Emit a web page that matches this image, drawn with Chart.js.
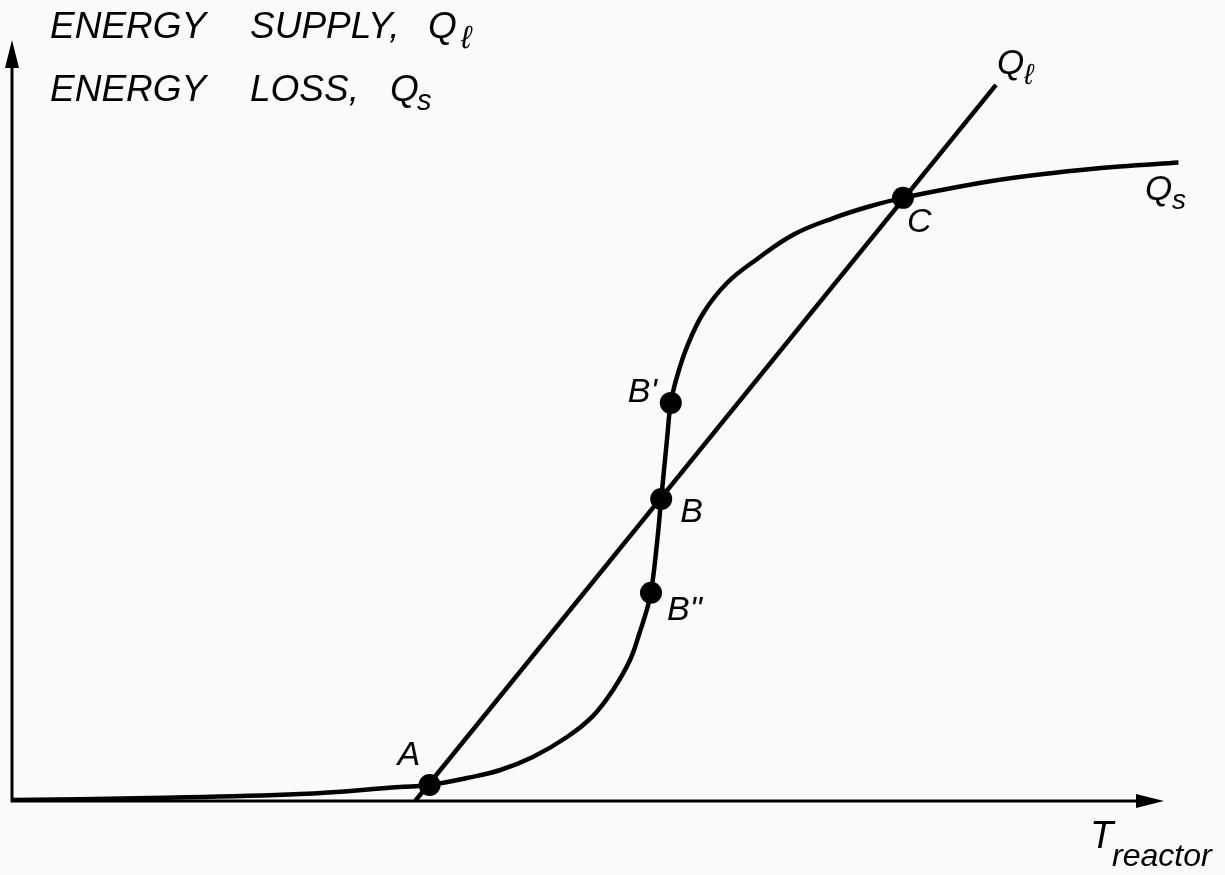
<!DOCTYPE html>
<html>
<head>
<meta charset="utf-8">
<script src="https://cdn.jsdelivr.net/npm/chart.js@4/dist/chart.umd.min.js"></script>
<style>
  html, body { margin: 0; padding: 0; background: #fafafa; }
  #wrap { width: 1225px; height: 875px; }
</style>
</head>
<body>
<div id="wrap"><canvas id="EnergyChart"></canvas></div>
<script>
// T_reactor (arbitrary units) and Q values
var lossT = [0, 11.5, 24.0, 32.3, 34.8, 37.9, 40.7, 43.4, 46.25, 48.4, 50.1, 51.5, 52.3, 52.9, 53.25, 53.75, 54.1, 54.6, 54.9, 55.4, 56.25, 57.6, 59.6, 62.1, 65.1, 68.4, 71.5, 74.25, 81.25, 86.75, 92.3, 97.2];
var lossQ = [0.12, 0.37, 0.87, 1.75, 2.0, 2.87, 3.87, 5.49, 7.99, 10.6, 13.9, 17.6, 21.0, 23.85, 26.0, 32.2, 37.7, 45.4, 49.7, 52.9, 56.7, 60.9, 64.7, 67.67, 70.7, 72.75, 74.25, 75.3, 77.3, 78.4, 79.2, 79.7];
var supplyT = [33.6, 82.0];
var supplyQ = [0, 89.4];
var stateNames = ['A', 'B"', 'B', "B'", 'C'];
var stateT = [34.8, 53.25, 54.1, 54.9, 74.25];
var stateQ = [2.0, 26.0, 37.7, 49.7, 75.3];

function pts(xs, ys) {
    return xs.map(function (x, i) { return {x: x, y: ys[i]}; });
}

var FONT = '"Liberation Sans", Arial, Helvetica, sans-serif';
function txt(ctx, s, x, y, size) {
    ctx.font = 'italic ' + size + 'px ' + FONT;
    ctx.fillText(s, x, y);
}

// label offsets from each state point, in px
var labelOff = [[-32, -20], [16, 27], [19, 23], [-43, -1], [4, 34]];

const decor = {
    id: 'decor',
    afterDraw(chart) {
        var ctx = chart.ctx, xs = chart.scales.x, ys = chart.scales.y;
        var x0 = xs.getPixelForValue(0), y0 = ys.getPixelForValue(0);
        var xTip = xs.getPixelForValue(96.0), yTip = ys.getPixelForValue(95.0);
        ctx.save();
        ctx.strokeStyle = '#000';
        ctx.fillStyle = '#000';
        ctx.lineWidth = 3;
        ctx.beginPath();
        ctx.moveTo(x0, yTip + 20);
        ctx.lineTo(x0, y0);
        ctx.lineTo(xTip - 20, y0);
        ctx.stroke();
        // arrow heads
        ctx.beginPath();
        ctx.moveTo(x0, yTip);
        ctx.lineTo(x0 - 7, yTip + 28);
        ctx.lineTo(x0 + 7, yTip + 28);
        ctx.closePath();
        ctx.fill();
        ctx.beginPath();
        ctx.moveTo(xTip, y0);
        ctx.lineTo(xTip - 28, y0 - 7);
        ctx.lineTo(xTip - 28, y0 + 7);
        ctx.closePath();
        ctx.fill();

        ctx.textBaseline = 'alphabetic';
        ctx.textAlign = 'left';
        // axis titles
        txt(ctx, 'ENERGY', 50, 38, 37);
        txt(ctx, 'SUPPLY,', 250, 38, 37);
        txt(ctx, 'Q', 428, 38, 37);
        txt(ctx, 'ℓ', 461, 48, 32);
        txt(ctx, 'ENERGY', 50, 101, 37);
        txt(ctx, 'LOSS,', 250, 101, 37);
        txt(ctx, 'Q', 390, 101, 37);
        txt(ctx, 's', 417, 110, 29);
        txt(ctx, 'T', 1090, 848, 38);
        txt(ctx, 'reactor', 1112, 866, 32);

        // curve names
        txt(ctx, 'Q', 997, 74, 35);
        txt(ctx, 'ℓ', 1024, 84, 29);
        txt(ctx, 'Q', 1145, 200, 35);
        txt(ctx, 's', 1172, 209, 28);

        // state labels
        stateNames.forEach(function (n, i) {
            var px = xs.getPixelForValue(stateT[i]), py = ys.getPixelForValue(stateQ[i]);
            txt(ctx, n, px + labelOff[i][0], py + labelOff[i][1], 34);
        });
        ctx.restore();
    }
};

new Chart(document.getElementById('EnergyChart').getContext('2d'), {
    type: 'scatter',
    data: {
        datasets: [
            {
                label: 'Qs',
                data: pts(lossT, lossQ),
                showLine: true,
                borderColor: '#000',
                borderWidth: 4.5,
                pointRadius: 0,
                tension: 0.4,
                order: 2
            },
            {
                label: 'Ql',
                data: pts(supplyT, supplyQ),
                showLine: true,
                borderColor: '#000',
                borderWidth: 4.5,
                pointRadius: 0,
                order: 2
            },
            {
                label: 'states',
                data: pts(stateT, stateQ),
                showLine: false,
                pointRadius: 11,
                pointBackgroundColor: '#000',
                pointBorderWidth: 0,
                order: 1
            }
        ]
    },
    options: {
        responsive: true,
        maintainAspectRatio: false,
        animation: false,
        layout: { autoPadding: false, padding: { left: 12, right: 13, top: 0, bottom: 74 } },
        scales: {
            x: { type: 'linear', min: 0, max: 100, display: false },
            y: { type: 'linear', min: 0, max: 100, display: false }
        },
        plugins: {
            legend: { display: false },
            tooltip: { enabled: false }
        }
    },
    plugins: [decor]
});
</script>
</body>
</html>
